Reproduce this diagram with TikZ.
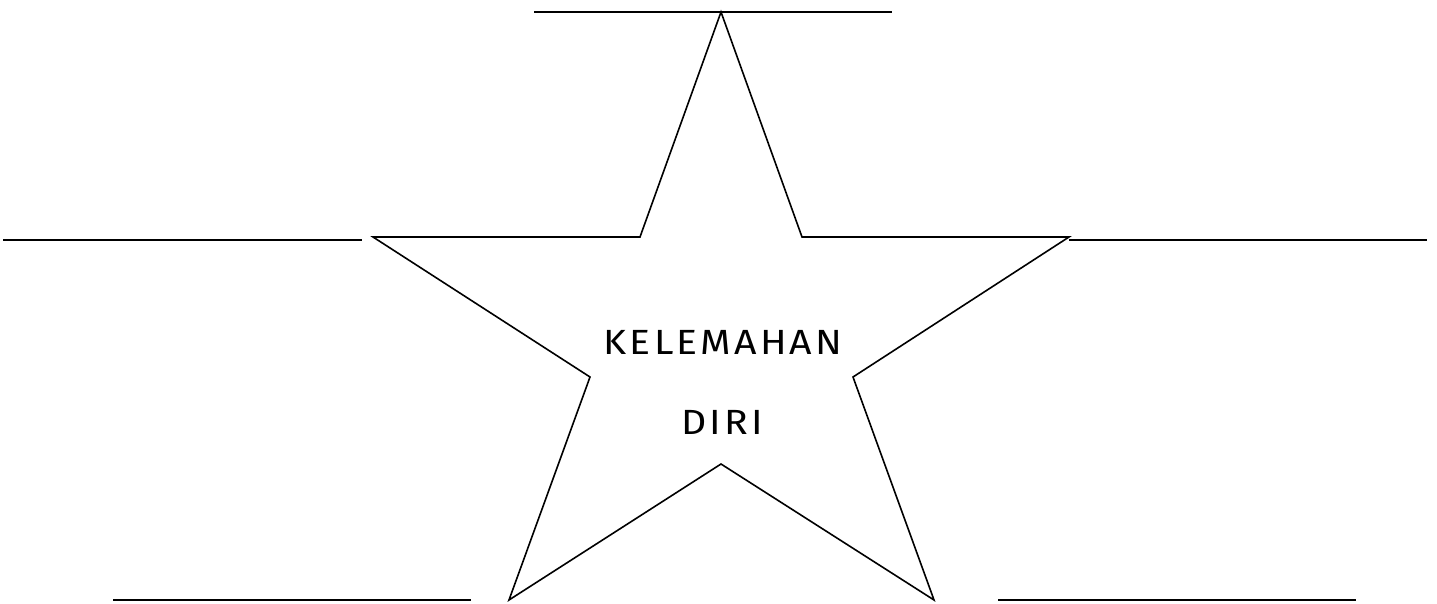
\documentclass[tikz,border=0pt]{standalone}
\usepackage{fontspec}
\newfontfamily\handfont[LetterSpace=8]{Fira Sans}
\begin{document}
\begin{tikzpicture}[x=1pt,y=-1pt,
  blank/.style={line width=1.6pt,black},
  starline/.style={line width=1.6pt,black,line join=miter},
  label/.style={font=\handfont\fontsize{35}{40}\selectfont,inner sep=0pt,xscale=1.12}]
\useasboundingbox (0,0) rectangle (1437,604);
\coordinate (t) at (721,12);
\coordinate (ur) at (802,237);
\coordinate (r) at (1069,237);
\coordinate (lr) at (853,377);
\coordinate (br) at (934,600);
\coordinate (b) at (721,464);
\coordinate (bl) at (509,600);
\coordinate (ll) at (590,377);
\coordinate (l) at (373,237);
\coordinate (ul) at (640,237);
\draw[starline] (t) -- (ur) -- (r) -- (lr) -- (br) -- (b) -- (bl) -- (ll) -- (l) -- (ul) -- cycle;
\coordinate (a1) at (534,12); \coordinate (a2) at (892,12);
\coordinate (b1) at (3,240); \coordinate (b2) at (362,240);
\coordinate (c1) at (1069,240); \coordinate (c2) at (1427,240);
\coordinate (d1) at (113,600); \coordinate (d2) at (471,600);
\coordinate (e1) at (998,600); \coordinate (e2) at (1356,600);
\draw[blank] (a1) -- (a2);
\draw[blank] (b1) -- (b2);
\draw[blank] (c1) -- (c2);
\draw[blank] (d1) -- (d2);
\draw[blank] (e1) -- (e2);
\node[label] (k) at (723,342) {KELEMAHAN};
\node[label] (d) at (722,422) {DIRI};
\end{tikzpicture}
\end{document}
